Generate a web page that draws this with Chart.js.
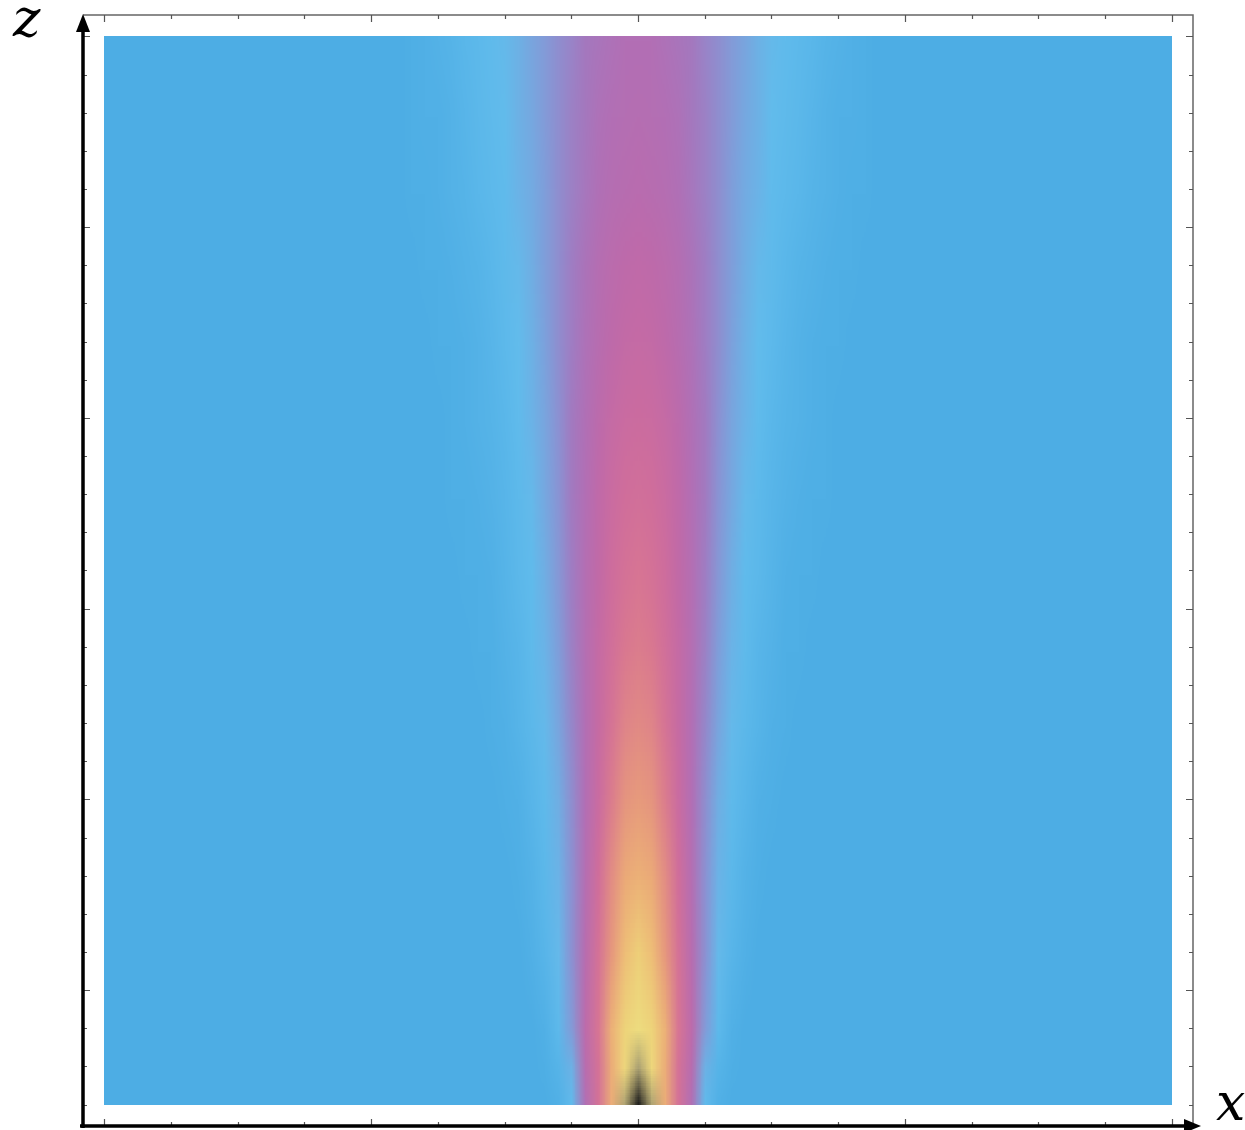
<!DOCTYPE html>
<html lang="en">
<head>
  <meta charset="UTF-8" />
  <meta name="viewport" content="width=device-width, initial-scale=1.0" />
  <title>Beam intensity in the x-z plane</title>
  <script src="https://cdn.jsdelivr.net/npm/chart.js"></script>
  <style>
    html, body {
      margin: 0;
      padding: 0;
      background: #fff;
    }
    #wrap {
      position: relative;
      width: 1245px;
      height: 1130px;
    }
  </style>
</head>
<body>
  <div id="wrap"><canvas id="beamChart"></canvas></div>

  <script>
    // half profile across x (mirrored about x = 0), one row per height z
    const xOffsets = [0, 0.2, 0.4, 0.6, 0.8, 1.0, 1.2, 1.4, 1.6, 1.8, 2.0, 2.2, 2.4, 2.6, 2.8, 3.0, 3.2, 3.4, 3.6];
    const zLevels = [0, 1, 2, 4, 6, 8, 10, 12, 14, 16, 18, 20, 22, 24, 26, 28];
    const intensity = [
      [1.00, 0.96, 0.82, 0.60, 0.38, 0.10, 0.02, 0, 0, 0, 0, 0, 0, 0, 0, 0, 0, 0, 0],
      [0.96, 0.91, 0.82, 0.60, 0.42, 0.15, 0.04, 0.01, 0, 0, 0, 0, 0, 0, 0, 0, 0, 0, 0],
      [0.93, 0.90, 0.83, 0.62, 0.45, 0.22, 0.08, 0.02, 0, 0, 0, 0, 0, 0, 0, 0, 0, 0, 0],
      [0.89, 0.86, 0.76, 0.60, 0.42, 0.25, 0.12, 0.05, 0.02, 0, 0, 0, 0, 0, 0, 0, 0, 0, 0],
      [0.83, 0.81, 0.72, 0.57, 0.40, 0.25, 0.14, 0.07, 0.03, 0.01, 0, 0, 0, 0, 0, 0, 0, 0, 0],
      [0.77, 0.75, 0.66, 0.53, 0.39, 0.26, 0.16, 0.09, 0.05, 0.02, 0.01, 0, 0, 0, 0, 0, 0, 0, 0],
      [0.71, 0.69, 0.61, 0.51, 0.39, 0.28, 0.19, 0.12, 0.07, 0.04, 0.02, 0.01, 0, 0, 0, 0, 0, 0, 0],
      [0.66, 0.64, 0.58, 0.50, 0.40, 0.30, 0.21, 0.14, 0.09, 0.05, 0.03, 0.01, 0.01, 0, 0, 0, 0, 0, 0],
      [0.62, 0.60, 0.56, 0.48, 0.40, 0.31, 0.23, 0.16, 0.10, 0.07, 0.04, 0.02, 0.01, 0.01, 0, 0, 0, 0, 0],
      [0.58, 0.57, 0.53, 0.47, 0.39, 0.32, 0.24, 0.18, 0.12, 0.08, 0.05, 0.03, 0.02, 0.01, 0.01, 0, 0, 0, 0],
      [0.54, 0.53, 0.50, 0.45, 0.38, 0.32, 0.25, 0.19, 0.14, 0.10, 0.06, 0.04, 0.03, 0.02, 0.01, 0, 0, 0, 0],
      [0.50, 0.49, 0.46, 0.42, 0.37, 0.31, 0.26, 0.20, 0.15, 0.11, 0.08, 0.05, 0.03, 0.02, 0.01, 0.01, 0, 0, 0],
      [0.47, 0.46, 0.44, 0.41, 0.36, 0.31, 0.26, 0.21, 0.16, 0.12, 0.09, 0.06, 0.04, 0.03, 0.02, 0.01, 0.01, 0, 0],
      [0.43, 0.42, 0.41, 0.38, 0.34, 0.30, 0.26, 0.21, 0.17, 0.14, 0.10, 0.08, 0.06, 0.04, 0.03, 0.02, 0.01, 0.01, 0],
      [0.41, 0.40, 0.39, 0.37, 0.33, 0.30, 0.26, 0.22, 0.18, 0.15, 0.11, 0.09, 0.07, 0.05, 0.03, 0.02, 0.02, 0.01, 0],
      [0.39, 0.39, 0.37, 0.35, 0.33, 0.29, 0.26, 0.22, 0.19, 0.15, 0.12, 0.10, 0.08, 0.06, 0.04, 0.03, 0.02, 0.01, 0]
    ];

    const xRange = [-8, 8];
    const zRange = [0, 28];
    const xTicks = [-8, -7, -6, -5, -4, -3, -2, -1, 0, 1, 2, 3, 4, 5, 6, 7, 8];
    const xMajorTicks = [-8, -4, 0, 4, 8];
    const zTicks = [0, 1, 2, 3, 4, 5, 6, 7, 8, 9, 10, 11, 12, 13, 14, 15, 16, 17, 18, 19, 20, 21, 22, 23, 24, 25, 26, 27, 28];
    const zMajorTicks = [3, 8, 13, 18, 23, 28];

    // colour scale: blue background -> light cyan -> purple -> pink -> orange -> yellow -> black
    const colorLevels = [0, 0.06, 0.11, 0.18, 0.25, 0.32, 0.38, 0.46, 0.55, 0.63, 0.70, 0.78, 0.85, 0.90, 0.94, 0.97, 1.0];
    const colorRGB = [
      [77, 173, 228], [90, 183, 234], [98, 188, 236], [118, 168, 224], [140, 145, 210],
      [162, 122, 192], [176, 112, 182], [190, 106, 170], [205, 108, 158], [216, 118, 146],
      [224, 135, 135], [232, 158, 122], [238, 185, 118], [238, 212, 122], [236, 222, 128],
      [140, 132, 108], [25, 25, 25]
    ];

    function colorFor(v) {
      if (v <= colorLevels[0]) return colorRGB[0];
      for (let i = 1; i < colorLevels.length; i++) {
        if (v <= colorLevels[i]) {
          const t = (v - colorLevels[i - 1]) / (colorLevels[i] - colorLevels[i - 1]);
          const a = colorRGB[i - 1], b = colorRGB[i];
          return [0, 1, 2].map(k => Math.round(a[k] + (b[k] - a[k]) * t));
        }
      }
      return colorRGB[colorRGB.length - 1];
    }

    // two sample rows -> tiny image; smoothing blends between them when scaled up
    function bandImage(lower, upper) {
      const n = xOffsets.length;
      const w = 2 * n - 1;
      const off = document.createElement('canvas');
      off.width = w;
      off.height = 2;
      const octx = off.getContext('2d');
      const img = octx.createImageData(w, 2);
      [upper, lower].forEach((row, r) => {
        for (let c = 0; c < w; c++) {
          const rgb = colorFor(row[Math.abs(c - (n - 1))]);
          const p = (r * w + c) * 4;
          img.data[p] = rgb[0];
          img.data[p + 1] = rgb[1];
          img.data[p + 2] = rgb[2];
          img.data[p + 3] = 255;
        }
      });
      octx.putImageData(img, 0, 0);
      return off;
    }
    const bands = [];
    for (let i = 0; i < zLevels.length - 1; i++) {
      bands.push(bandImage(intensity[i], intensity[i + 1]));
    }

    const heatmap = {
      id: 'heatmap',
      beforeDatasetsDraw(chart) {
        const ctx = chart.ctx;
        const x = chart.scales.x, y = chart.scales.y;
        const left = Math.round(x.getPixelForValue(xRange[0]));
        const right = Math.round(x.getPixelForValue(xRange[1]));
        const top = Math.round(y.getPixelForValue(zRange[1]));
        const bottom = Math.round(y.getPixelForValue(zRange[0]));
        const bg = colorFor(0);
        ctx.save();
        ctx.fillStyle = `rgb(${bg[0]},${bg[1]},${bg[2]})`;
        ctx.fillRect(left, top, right - left, bottom - top);

        const dx = xOffsets[1] - xOffsets[0];
        const xMax = xOffsets[xOffsets.length - 1];
        const ix0 = x.getPixelForValue(-xMax - dx / 2);
        const ix1 = x.getPixelForValue(xMax + dx / 2);
        ctx.imageSmoothingEnabled = true;
        bands.forEach((img, i) => {
          const zA = zLevels[i], zB = zLevels[i + 1];
          const h = zB - zA;
          const cTop = Math.round(y.getPixelForValue(zB));
          const cBot = Math.round(y.getPixelForValue(zA));
          ctx.save();
          ctx.beginPath();
          ctx.rect(left, cTop, right - left, cBot - cTop);
          ctx.clip();
          const iy0 = y.getPixelForValue(zB + h / 2);
          const iy1 = y.getPixelForValue(zA - h / 2);
          ctx.drawImage(img, ix0, iy0, ix1 - ix0, iy1 - iy0);
          ctx.restore();
        });
        ctx.restore();
      }
    };

    const frame = {
      id: 'frame',
      afterDraw(chart) {
        const ctx = chart.ctx;
        const a = chart.chartArea;
        const x = chart.scales.x, y = chart.scales.y;
        ctx.save();

        // top and right frame
        ctx.strokeStyle = '#666';
        ctx.lineWidth = 1.5;
        ctx.beginPath();
        ctx.moveTo(a.left, a.top);
        ctx.lineTo(a.right, a.top);
        ctx.lineTo(a.right, a.bottom);
        ctx.stroke();

        // ticks pointing inward
        ctx.strokeStyle = '#555';
        ctx.lineWidth = 1.2;
        ctx.beginPath();
        xTicks.forEach(v => {
          const px = Math.round(x.getPixelForValue(v)) + 0.5;
          const len = xMajorTicks.includes(v) ? 7 : 4;
          ctx.moveTo(px, a.bottom);
          ctx.lineTo(px, a.bottom - len);
          ctx.moveTo(px, a.top);
          ctx.lineTo(px, a.top + len);
        });
        zTicks.forEach(v => {
          const py = Math.round(y.getPixelForValue(v)) + 0.5;
          const len = zMajorTicks.includes(v) ? 7 : 4;
          ctx.moveTo(a.left, py);
          ctx.lineTo(a.left + len, py);
          ctx.moveTo(a.right, py);
          ctx.lineTo(a.right - len, py);
        });
        ctx.stroke();

        // axis arrows
        ctx.strokeStyle = '#000';
        ctx.fillStyle = '#000';
        ctx.lineWidth = 3.5;
        ctx.beginPath();
        ctx.moveTo(a.left, a.bottom + 2);
        ctx.lineTo(a.left, a.top + 12);
        ctx.moveTo(a.left - 3, a.bottom);
        ctx.lineTo(a.right + 2, a.bottom);
        ctx.stroke();

        ctx.beginPath();
        ctx.moveTo(a.left, a.top - 1);
        ctx.lineTo(a.left - 7, a.top + 17);
        ctx.lineTo(a.left + 7, a.top + 17);
        ctx.closePath();
        ctx.fill();

        ctx.beginPath();
        ctx.moveTo(a.right + 8, a.bottom);
        ctx.lineTo(a.right - 9, a.bottom - 7);
        ctx.lineTo(a.right - 9, a.bottom + 7);
        ctx.closePath();
        ctx.fill();

        // axis names
        ctx.font = 'italic 52px "DejaVu Serif"';
        ctx.textAlign = 'left';
        ctx.textBaseline = 'alphabetic';
        ctx.fillText('z', 13, 36);
        ctx.fillText('x', 1216, 1120);
        ctx.restore();
      }
    };

    const samplePoints = [];
    zLevels.forEach((z, r) => {
      xOffsets.forEach((dx, c) => {
        samplePoints.push({ x: dx, y: z, v: intensity[r][c] });
        if (dx > 0) samplePoints.push({ x: -dx, y: z, v: intensity[r][c] });
      });
    });

    const ctx = document.getElementById('beamChart').getContext('2d');
    new Chart(ctx, {
      type: 'scatter',
      data: {
        datasets: [{
          label: 'intensity',
          data: samplePoints,
          pointRadius: 0,
          pointHoverRadius: 0
        }]
      },
      options: {
        responsive: true,
        maintainAspectRatio: false,
        animation: false,
        layout: { padding: { left: 83, right: 52, top: 15, bottom: 4 } },
        scales: {
          x: { type: 'linear', min: -8.32, max: 8.32, display: false },
          y: { type: 'linear', min: -0.56, max: 28.56, display: false }
        },
        plugins: {
          legend: { display: false },
          tooltip: { enabled: false }
        }
      },
      plugins: [heatmap, frame]
    });
  </script>
</body>
</html>
